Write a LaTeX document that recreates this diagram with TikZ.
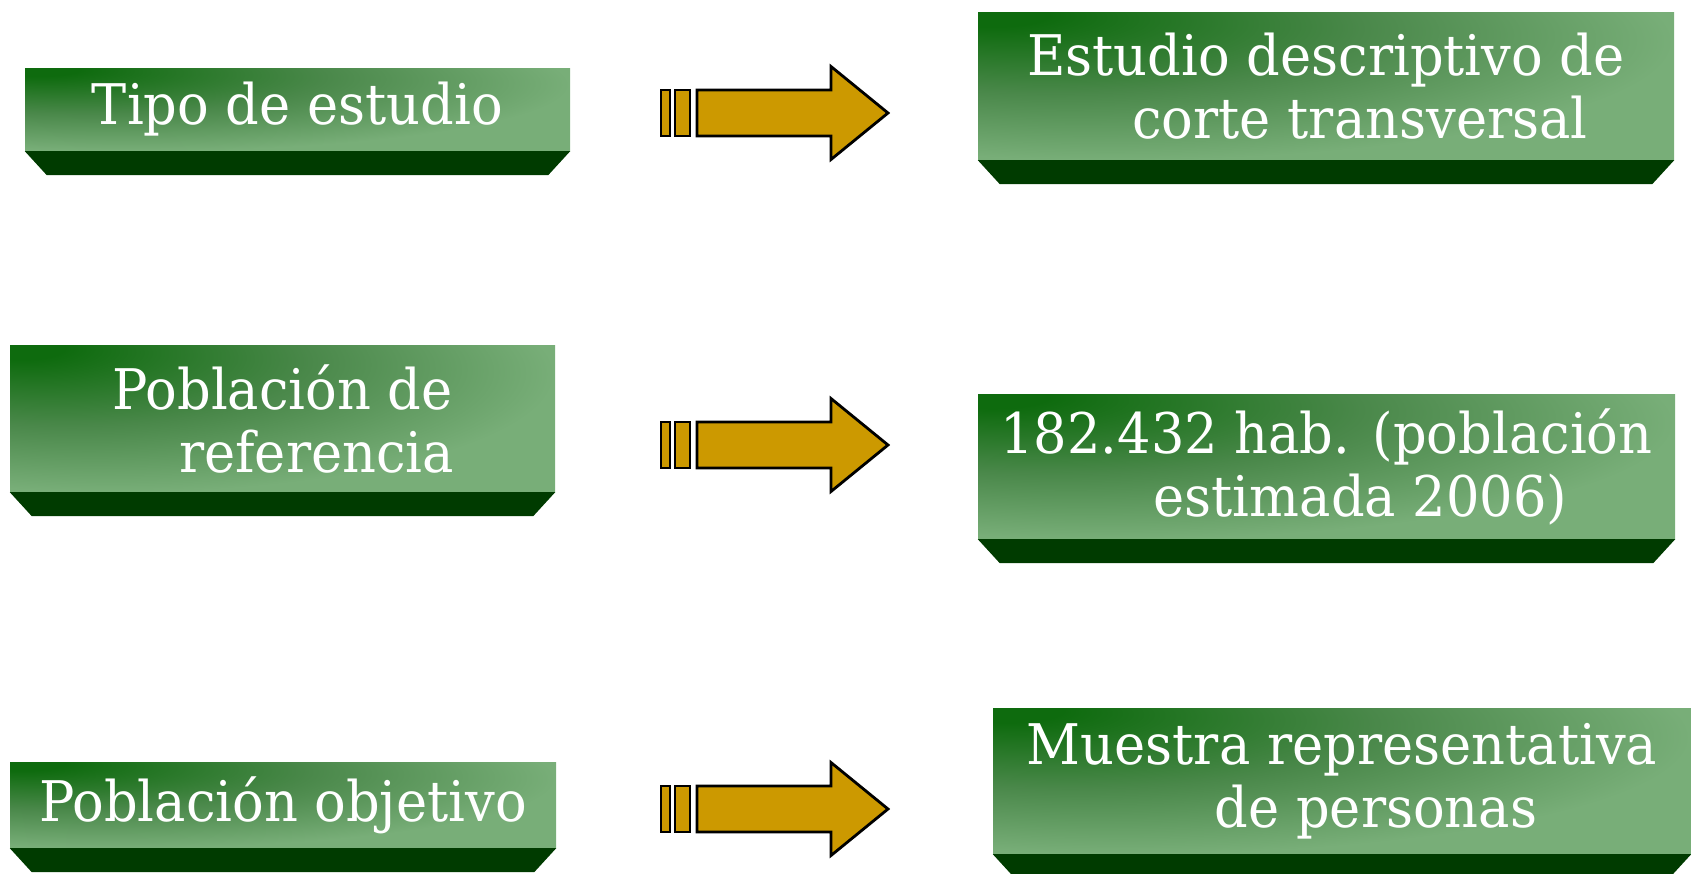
\documentclass[tikz,border=0pt]{standalone}
\usepackage{fontspec}
\setmainfont{DejaVu Serif}[FakeStretch=0.94]
\usepackage{xcolor}
\usetikzlibrary{calc,positioning}
\definecolor{gdark}{HTML}{0E6B0E}
\definecolor{gmid}{HTML}{4A884A}
\definecolor{glight}{HTML}{78AE78}
\definecolor{gshadow}{HTML}{003B00}
\definecolor{mgold}{HTML}{CC9900}
\pgfdeclareradialshading{facegreen}{\pgfpoint{-25bp}{25bp}}{color(0bp)=(gdark); color(4bp)=(gdark); color(22bp)=(gmid); color(40bp)=(glight); color(100bp)=(glight)}
\tikzstyle{face}=[shade, shading=facegreen, inner sep=0pt, text=white, align=center, font=\fontsize{56}{63}\selectfont]
\tikzstyle{arrowline}=[draw=black, fill=mgold, line width=2.8pt, line join=miter]
\newcommand{\secondline}{\hspace*{68pt}}
\newcommand{\boxshadow}[1]{%
  \fill[gshadow] (#1.south west) -- (#1.south east) -- ++(-22,24) -- ($(#1.south west)+(22,24)$) -- cycle;}
\newcommand{\fatarrow}[1]{%
  \draw[arrowline] ($(#1)+(-113.5,-23)$) rectangle ($(#1)+(-104.5,23)$);
  \draw[arrowline] ($(#1)+(-99.5,-23)$) rectangle ($(#1)+(-84.5,23)$);
  \draw[arrowline] ($(#1)+(-77.5,-23)$) -- ($(#1)+(56.5,-23)$) -- ($(#1)+(56.5,-46.5)$)
    -- ($(#1)+(113.5,0)$) -- ($(#1)+(56.5,46.5)$) -- ($(#1)+(56.5,23)$) -- ($(#1)+(-77.5,23)$) -- cycle;}

\begin{document}
\begin{tikzpicture}[x=1pt, y=-1pt]
    \useasboundingbox (0,0) rectangle (1691,873);

    % left column
    \node (tipo) [face, minimum width=545pt, minimum height=83pt] at (297.5,109.5) {Tipo de estudio};
    \node (pobref) [face, minimum width=545pt, minimum height=147pt] at (282.5,418.5) {Población de\\ \secondline referencia};
    \node (pobobj) [face, minimum width=546pt, minimum height=86pt] at (283,805) {Población objetivo};

    % right column
    \node (estudio) [face, minimum width=696pt, minimum height=148pt] at (1326,86) {Estudio descriptivo de\\ \secondline corte transversal};
    \node (hab) [face, minimum width=697pt, minimum height=145pt] at (1326.5,466.5) {182.432 hab. (población\\ \secondline estimada 2006)};
    \node (muestra) [face, minimum width=698pt, minimum height=146pt] at (1342,781) {Muestra representativa\\ \secondline de personas};

    \boxshadow{tipo}
    \boxshadow{pobref}
    \boxshadow{pobobj}
    \boxshadow{estudio}
    \boxshadow{hab}
    \boxshadow{muestra}

    % arrows
    \coordinate (a1) at (774.5,113);
    \coordinate (a2) at (774.5,445);
    \coordinate (a3) at (774.5,809);
    \fatarrow{a1}
    \fatarrow{a2}
    \fatarrow{a3}
\end{tikzpicture}
\end{document}
